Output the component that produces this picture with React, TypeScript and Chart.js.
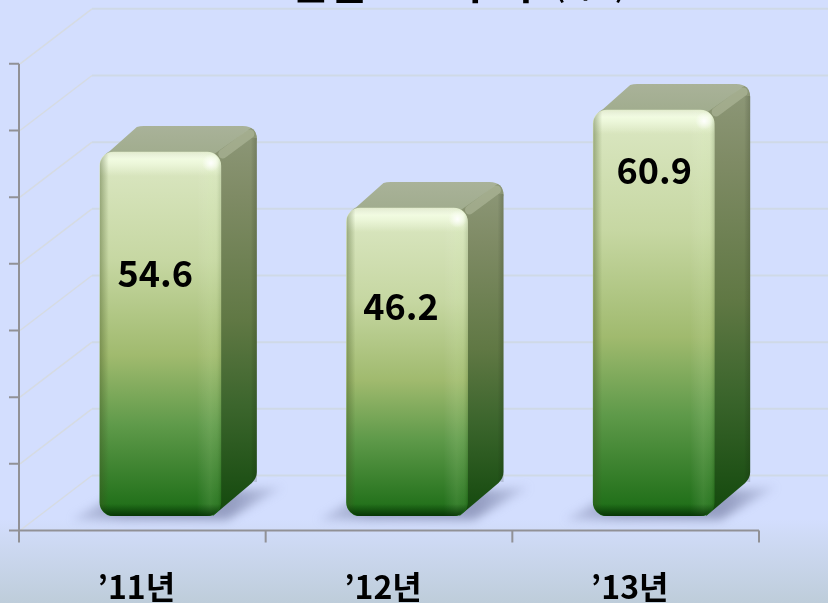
import { useEffect, useRef } from "react";
import { Chart, registerables } from "chart.js";

Chart.register(...registerables);

const categories = ["’11년", "’12년", "’13년"];
const values = [54.6, 46.2, 60.9];
const axisMax = 70;
const axisStep = 10;
// vertical position of each value label, as a drop below the bar's top
const labelDrop = [121, 98, 60];
const labelShift = [-5, -6, 0.5];

const FONT = '"Noto Sans CJK KR", "Noto Sans", sans-serif';
const DX = 36;
const DY = 26;
const FLOOR = 14.5; // axis lies this far in front of the bars
const AX = 18; // x shift of axis relative to the bars
const WX = 73; // wall depth
const WY = 55;

function frontPath(ctx: CanvasRenderingContext2D, l: number, t: number, r: number, b: number, rad: number) {
  ctx.beginPath();
  ctx.roundRect(l, t, r - l, b - t, rad);
}

const scene = {
  id: "scene",
  beforeDraw(chart: any) {
    const { ctx, width, height } = chart;
    const bg = ctx.createLinearGradient(0, 0, 0, height);
    bg.addColorStop(0, "#D3DEFE");
    bg.addColorStop(0.86, "#D3DEFE");
    bg.addColorStop(0.9, "#CDD9F3");
    bg.addColorStop(1, "#BECDDA");
    ctx.save();
    ctx.fillStyle = bg;
    ctx.fillRect(0, 0, width, height);

    // title, cut off by the top edge
    ctx.fillStyle = "#000";
    ctx.textBaseline = "alphabetic";
    ctx.textAlign = "left";
    ctx.font = `bold 42px ${FONT}`;
    ctx.fillText("연결", 289, -1);
    ctx.fillText("추이", 456, -1);
    ctx.font = `bold 27px ${FONT}`;
    ctx.fillText("(억원)", 555, -2);
    ctx.restore();
  },
  beforeDatasetsDraw(chart: any) {
    const { ctx, scales } = chart;
    const y = scales.y;
    const x = scales.x;
    const x0 = x.left - AX;
    const band = (x.right - x.left) / categories.length;
    ctx.save();

    // walls
    for (let v = 0; v <= axisMax; v += axisStep) {
      const py = y.getPixelForValue(v) + FLOOR;
      ctx.lineWidth = 1.5;
      ctx.strokeStyle = "#D6DBE2";
      ctx.beginPath();
      ctx.moveTo(x0 + 1, py);
      ctx.lineTo(x0 + WX, py - WY);
      ctx.stroke();
      ctx.lineWidth = 2;
      ctx.strokeStyle = "#CFD9E6";
      ctx.beginPath();
      ctx.moveTo(x0 + WX, py - WY);
      ctx.lineTo(chart.width, py - WY);
      ctx.stroke();
    }

    // axes
    const yb = y.getPixelForValue(0) + FLOOR;
    const yt = y.getPixelForValue(axisMax) + FLOOR;
    ctx.strokeStyle = "#919196";
    ctx.lineWidth = 2;
    ctx.beginPath();
    ctx.moveTo(x0, yt);
    ctx.lineTo(x0, yb);
    ctx.moveTo(x0 - 10, yb);
    ctx.lineTo(x0 + band * categories.length, yb);
    for (let v = axisStep; v <= axisMax; v += axisStep) {
      const py = y.getPixelForValue(v) + FLOOR;
      ctx.moveTo(x0 - 10, py);
      ctx.lineTo(x0, py);
    }
    for (let i = 0; i <= categories.length; i++) {
      ctx.moveTo(x0 + i * band, yb);
      ctx.lineTo(x0 + i * band, yb + 12);
    }
    ctx.stroke();

    // floor shadows, side and top faces
    chart.getDatasetMeta(0).data.forEach((bar: any) => {
      const l = bar.x - bar.width / 2;
      const r = bar.x + bar.width / 2;
      const t = bar.y;
      const b = bar.base;

      ctx.save();
      ctx.filter = "blur(5px)";
      const sh = ctx.createLinearGradient(l - 30, 0, r + 66, 0);
      sh.addColorStop(0, "rgba(130,138,175,0.25)");
      sh.addColorStop(0.25, "rgba(125,133,170,0.65)");
      sh.addColorStop(0.75, "rgba(125,133,170,0.72)");
      sh.addColorStop(1, "rgba(130,138,175,0.12)");
      ctx.fillStyle = sh;
      ctx.beginPath();
      ctx.moveTo(l - 28, b + 4);
      ctx.lineTo(l + 10, b - 18);
      ctx.lineTo(r + 62, b - 29);
      ctx.lineTo(r + 6, b + 4);
      ctx.closePath();
      ctx.fill();
      ctx.restore();

      // top face
      const top = ctx.createLinearGradient(0, t - DY, 0, t + 4);
      top.addColorStop(0, "#A9B299");
      top.addColorStop(1, "#A0AC8D");
      ctx.fillStyle = top;
      ctx.beginPath();
      ctx.moveTo(l + 2, t + 8);
      ctx.quadraticCurveTo(l + 3, t + 3, l + 10, t - 1);
      ctx.lineTo(l + 37, t - DY + 1);
      ctx.quadraticCurveTo(l + 40, t - DY, l + 44, t - DY);
      ctx.lineTo(r + DX - 14, t - DY);
      ctx.quadraticCurveTo(r + DX, t - DY, r + DX, t - DY + 14);
      ctx.lineTo(r, t + 16);
      ctx.closePath();
      ctx.fill();

      // side face
      const side = ctx.createLinearGradient(0, t - DY, 0, b);
      side.addColorStop(0, "#8E9879");
      side.addColorStop(0.18, "#7F8B65");
      side.addColorStop(0.5, "#607844");
      side.addColorStop(0.72, "#3B652C");
      side.addColorStop(1, "#12480C");
      ctx.fillStyle = side;
      ctx.beginPath();
      ctx.moveTo(r - 8, t + 3);
      ctx.lineTo(r + DX - 6, t - DY + 2);
      ctx.quadraticCurveTo(r + DX, t - DY + 4, r + DX, t - DY + 14);
      ctx.lineTo(r + DX, b - 44);
      ctx.quadraticCurveTo(r + DX, b - 38, r + DX - 5, b - 33);
      ctx.lineTo(r - 8, b);
      ctx.closePath();
      ctx.fill();

      // lit diagonal between the top and side faces
      ctx.strokeStyle = "rgba(190,200,170,0.45)";
      ctx.lineWidth = 9;
      ctx.lineCap = "round";
      ctx.beginPath();
      ctx.moveTo(r + 2, t + 2);
      ctx.lineTo(r + DX - 7, t - DY + 8);
      ctx.stroke();

      // soft darkening down the right of the side face
      const strip = ctx.createLinearGradient(r + DX - 6, 0, r + DX, 0);
      strip.addColorStop(0, "rgba(0,0,0,0)");
      strip.addColorStop(1, "rgba(20,30,10,0.18)");
      ctx.fillStyle = strip;
      ctx.fillRect(r + DX - 6, t - DY + 12, 6, b - t - 20);
    });
    ctx.restore();
  },
  afterDatasetsDraw(chart: any) {
    const { ctx } = chart;
    chart.getDatasetMeta(0).data.forEach((bar: any, i: number) => {
      const l = bar.x - bar.width / 2;
      const r = bar.x + bar.width / 2;
      const t = bar.y;
      const b = bar.base;

      ctx.save();
      frontPath(ctx, l, t, r, b, 14);
      ctx.clip();

      // bevel: top highlight
      let g = ctx.createLinearGradient(0, t, 0, t + 24);
      g.addColorStop(0, "rgba(255,255,255,0.15)");
      g.addColorStop(0.3, "rgba(245,255,230,0.85)");
      g.addColorStop(0.5, "rgba(245,255,230,0.65)");
      g.addColorStop(1, "rgba(245,255,230,0)");
      ctx.fillStyle = g;
      ctx.fillRect(l, t, r - l, 24);

      // bevel: right
      g = ctx.createLinearGradient(r - 24, 0, r, 0);
      g.addColorStop(0, "rgba(255,255,255,0)");
      g.addColorStop(0.55, "rgba(230,255,200,0.11)");
      g.addColorStop(0.8, "rgba(230,255,200,0.07)");
      g.addColorStop(1, "rgba(40,70,20,0.15)");
      ctx.fillStyle = g;
      ctx.fillRect(r - 24, t, 24, b - t);

      // bevel: left
      g = ctx.createLinearGradient(l, 0, l + 9, 0);
      g.addColorStop(0, "rgba(60,80,30,0.4)");
      g.addColorStop(1, "rgba(60,80,30,0)");
      ctx.fillStyle = g;
      ctx.fillRect(l, t, 9, b - t);

      // bevel: bottom
      g = ctx.createLinearGradient(0, b - 12, 0, b);
      g.addColorStop(0, "rgba(0,40,0,0)");
      g.addColorStop(1, "rgba(0,30,0,0.7)");
      ctx.fillStyle = g;
      ctx.fillRect(l, b - 12, r - l, 12);

      // corner glint
      g = ctx.createRadialGradient(r - 10, t + 11, 0, r - 10, t + 11, 9);
      g.addColorStop(0, "rgba(255,255,255,0.95)");
      g.addColorStop(1, "rgba(255,255,255,0)");
      ctx.fillStyle = g;
      ctx.fillRect(r - 20, t, 20, 22);
      ctx.restore();

      // value label
      ctx.save();
      ctx.fillStyle = "#000";
      ctx.font = `bold 36px ${FONT}`;
      ctx.textAlign = "center";
      ctx.textBaseline = "middle";
      ctx.fillText(values[i].toFixed(1), bar.x + labelShift[i], t + labelDrop[i]);
      ctx.restore();
    });
  },
};

export default function App() {
  const ref = useRef<HTMLCanvasElement>(null);
  useEffect(() => {
    document.body.style.margin = "0";
    const chart = new Chart(ref.current!, {
      type: "bar",
      data: {
        labels: categories,
        datasets: [
          {
            data: values,
            barThickness: 121,
            borderRadius: 14,
            borderSkipped: false,
            backgroundColor: (c: any) => {
              const { chartArea, scales } = c.chart;
              if (!chartArea) return "#A3BB6E";
              const top = scales.y.getPixelForValue(values[c.dataIndex]);
              const bottom = scales.y.getPixelForValue(0);
              const g = c.chart.ctx.createLinearGradient(0, top, 0, bottom);
              g.addColorStop(0, "#DCE8C4");
              g.addColorStop(0.3, "#C6D7A2");
              g.addColorStop(0.56, "#A0BA6E");
              g.addColorStop(0.75, "#5F9A4A");
              g.addColorStop(1, "#1A6B14");
              return g;
            },
          },
        ],
      },
      options: {
        animation: false,
        responsive: false,
        layout: { padding: { left: 37, right: 51, top: 49.3, bottom: 0 } },
        plugins: { legend: { display: false }, title: { display: false }, tooltip: { enabled: false } },
        scales: {
          x: {
            afterFit: (s: any) => {
              s.height = 87;
            },
            grid: { display: false, drawTicks: false },
            border: { display: false },
            ticks: {
              color: "#000",
              padding: 52,
              labelOffset: -24,
              maxRotation: 0,
              font: { family: FONT, size: 32, weight: "bold" },
            },
          },
          y: {
            display: false,
            min: 0,
            max: axisMax,
            ticks: { stepSize: axisStep },
          },
        },
      },
      plugins: [scene],
    } as any);
    return () => chart.destroy();
  }, []);
  return <canvas ref={ref} width={828} height={603} style={{ display: "block" }} />;
}
